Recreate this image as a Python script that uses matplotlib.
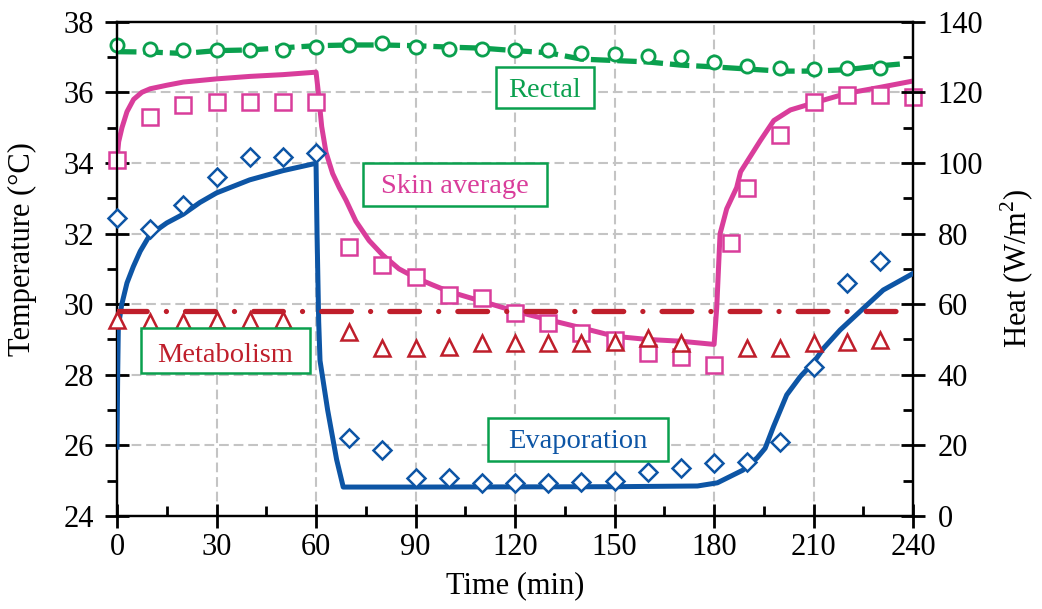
import matplotlib
matplotlib.use("Agg")
import matplotlib.pyplot as plt
from matplotlib.patches import Rectangle
from matplotlib.ticker import MultipleLocator

# ---------------- data ----------------
# Rectal temperature (°C)
rectal_obs_t = [0, 10, 20, 30, 40, 50, 60, 70, 80, 90, 100, 110, 120, 130, 140, 150,
                160, 170, 180, 190, 200, 210, 220, 230]
rectal_obs = [37.33, 37.22, 37.21, 37.2, 37.2, 37.21, 37.29, 37.34, 37.39, 37.29, 37.24,
              37.24, 37.2, 37.2, 37.12, 37.09, 37.03, 36.99, 36.87, 36.75, 36.68, 36.65,
              36.68, 36.7]
rectal_mod_t = [0, 10, 20, 30, 40, 50, 60, 70, 80, 90, 100, 110, 120, 130, 140, 150,
                160, 170, 180, 190, 200, 210, 220, 230, 236]
rectal_mod = [37.15, 37.14, 37.1, 37.18, 37.2, 37.26, 37.32, 37.34, 37.34, 37.32, 37.28,
              37.25, 37.18, 37.12, 36.94, 36.9, 36.86, 36.77, 36.72, 36.66, 36.6, 36.6,
              36.64, 36.75, 36.8]

# Skin average temperature (°C)
skin_obs_t = [0, 10, 20, 30, 40, 50, 60, 70, 80, 90, 100, 110, 120, 130, 140, 150,
              160, 170, 180, 185, 190, 200, 210, 220, 230, 240]
skin_obs = [34.08, 35.31, 35.64, 35.73, 35.73, 35.73, 35.73, 31.63, 31.11, 30.78, 30.26,
            30.17, 29.74, 29.46, 29.17, 28.99, 28.61, 28.51, 28.28, 31.72, 33.29, 34.79,
            35.73, 35.92, 35.92, 35.86]
skin_mod_t = [0, 0.5, 1.5, 3, 5, 7.5, 10, 15, 20, 30, 40, 50, 60, 60.7, 61.7, 63, 65,
              67, 69, 72, 76, 80, 85, 90, 95, 100, 110, 120, 130, 140, 150, 160, 170,
              180, 180.8, 181.8, 183.8, 186.8, 188, 194, 198, 203, 209, 220, 230, 240]
skin_mod = [34.1, 34.6, 35.0, 35.45, 35.8, 36.0, 36.1, 36.2, 36.29, 36.38, 36.45, 36.5,
            36.57, 36.0, 35.03, 34.3, 33.7, 33.3, 32.95, 32.35, 31.8, 31.4, 31.0, 30.75,
            30.55, 30.36, 30.08, 29.8, 29.56, 29.33, 29.09, 29.0, 28.95, 28.86, 29.9,
            31.99, 32.7, 33.3, 33.75, 34.64, 35.2, 35.5, 35.67, 35.97, 36.14, 36.32]

# Evaporation heat (W/m2)
evap_obs_t = [0, 10, 20, 30, 40, 50, 60, 70, 80, 90, 100, 110, 120, 130, 140, 150,
              160, 170, 180, 190, 200, 210, 220, 230]
evap_obs = [84.3, 81.2, 88.1, 96.1, 101.7, 101.7, 102.7, 22.2, 18.7, 10.7, 10.7, 9.3,
            9.3, 9.3, 9.7, 10.0, 12.5, 13.5, 14.9, 15.4, 21.0, 42.3, 65.9, 72.2]
evap_mod_t = [0, 0.2, 0.4, 1.4, 3, 4.9, 7, 9.9, 15, 20, 25, 30, 40, 50, 60, 60.3, 60.8,
              61.2, 63.5, 66.2, 68.2, 90, 150, 175, 181, 188.7, 193, 195.4, 197.9,
              201.9, 206, 210, 213, 218, 225, 231, 240]
evap_mod = [19.5, 40, 53.6, 59.8, 66, 70.6, 75, 79.6, 83, 85.5, 88.8, 91.5, 95.2, 97.8,
            99.9, 80, 55, 44, 30, 16, 8.2, 8.2, 8.3, 8.5, 9.4, 13.0, 16.5, 19.2, 25.3,
            34.3, 39.5, 43.5, 47.5, 52.7, 58.8, 64, 68.7]

# Metabolism heat (W/m2)
metab_obs_t = [0, 10, 20, 30, 40, 50, 70, 80, 90, 100, 110, 120, 130, 140, 150, 160,
               170, 190, 200, 210, 220, 230]
metab_obs = [55.5, 55, 55, 55.5, 55.5, 55.5, 52.2, 47.5, 47.5, 48, 49.1, 49.1, 49.1,
             48.9, 49.3, 50.3, 48.9, 47.5, 47.5, 48.9, 49.4, 49.9]
metab_mod_t = [0, 240]
metab_mod = [58, 58]

x_ticks = [0, 30, 60, 90, 120, 150, 180, 210, 240]
temp_ticks = [24, 26, 28, 30, 32, 34, 36, 38]
heat_ticks = [0, 20, 40, 60, 80, 100, 120, 140]

# ---------------- style ----------------
GREEN = "#0aa04e"
MAGENTA = "#d93d9b"
BLUE = "#0d55a5"
RED = "#bf1e2b"

plt.rcParams["font.family"] = ["Liberation Serif", "DejaVu Serif"]
plt.rcParams["mathtext.fontset"] = "custom"
plt.rcParams["mathtext.rm"] = "Liberation Serif"
plt.rcParams["lines.scale_dashes"] = False

FS = 22
fig = plt.figure(figsize=(10.42, 6.09), dpi=100)
ax = fig.add_axes([0.1123, 0.1527, 0.7640, 0.8117])
ax2 = ax.twinx()

ax.set_xlim(0, 240)
ax.set_ylim(24, 38)
ax2.set_ylim(0, 140)

# grid
for t in x_ticks[1:-1]:
    ax.axvline(t, color="#c4c4c4", lw=1.5, dashes=(7, 3.5), zorder=0)
for v in temp_ticks[1:-1]:
    ax.axhline(v, color="#c4c4c4", lw=1.5, dashes=(7, 3.5), zorder=0)

# temperature series
ax.plot(rectal_mod_t, rectal_mod, color=GREEN, lw=3.8, dashes=(14, 5),
        zorder=3)
ax.plot(rectal_obs_t, rectal_obs, ls="none", marker="o", ms=9.5, mew=2.0,
        mec=GREEN, mfc="white", zorder=4, clip_on=False)
ax.plot(skin_mod_t, skin_mod, color=MAGENTA, lw=3.6, zorder=3,
        solid_joinstyle="round")
ax.plot(skin_obs_t, skin_obs, ls="none", marker="s", ms=11, mew=1.8,
        mec=MAGENTA, mfc="white", zorder=4, clip_on=False)

# heat series
ax2.plot(evap_mod_t, evap_mod, color=BLUE, lw=3.6, zorder=3,
         solid_joinstyle="round")
ax2.plot(evap_obs_t, evap_obs, ls="none", marker="D", ms=9.5, mew=1.8,
         mec=BLUE, mfc="white", zorder=4, clip_on=False)
ax2.plot(metab_mod_t, metab_mod, color=RED, lw=3.8, dashes=(21.4, 13.8, 0.01, 13.8),
         dash_capstyle="round", zorder=3)
ax2.plot(metab_obs_t, metab_obs, ls="none", marker="^", ms=11, mew=1.8,
         mec=RED, mfc="white", zorder=4, clip_on=False)

# ticks
ax.set_xticks(x_ticks)
ax.set_yticks(temp_ticks)
ax2.set_yticks(heat_ticks)
ax.xaxis.set_minor_locator(MultipleLocator(15))
ax.yaxis.set_minor_locator(MultipleLocator(1))
ax2.yaxis.set_minor_locator(MultipleLocator(10))

ax.tick_params(axis="x", which="major", direction="inout", length=17, width=2,
               labelsize=FS, pad=4, top=False)
ax.tick_params(axis="x", which="minor", direction="in", length=7, width=2, top=False)
ax.tick_params(axis="y", which="major", direction="inout", length=17, width=2,
               labelsize=FS, pad=8)
ax.tick_params(axis="y", which="minor", direction="out", length=7, width=2)
ax2.tick_params(axis="y", which="major", direction="inout", length=17, width=2,
                labelsize=FS, pad=9)
ax2.tick_params(axis="y", which="minor", direction="in", length=7, width=2)

for a in (ax, ax2):
    for s in a.spines.values():
        s.set_linewidth(1.6)

ax.set_xlabel("Time (min)", fontsize=FS)
ax.set_ylabel("Temperature (°C)", fontsize=FS)
ax2.set_ylabel(r"Heat (W/m$^\mathrm{2}$)", fontsize=FS)
ax.xaxis.set_label_coords(0.5, -0.112)
ax.yaxis.set_label_coords(-0.100, 0.54)
ax2.yaxis.set_label_coords(1.108, 0.5)

# annotation boxes
boxes = [
    ("Rectal", GREEN, 0.4757, 0.5990, 0.8248, 0.9090, 0.847),
    ("Skin average", MAGENTA, 0.3094, 0.5406, 0.6272, 0.7135, 0.6535),
    ("Metabolism", RED, 0.0298, 0.2425, 0.2899, 0.3797, 0.3122),
    ("Evaporation", BLUE, 0.4664, 0.6918, 0.1113, 0.1977, 0.137),
]
for label, col, x0, x1, y0, y1, yb in boxes:
    ax2.add_patch(Rectangle((x0, y0), x1 - x0, y1 - y0, transform=ax2.transAxes,
                            fc="white", ec=GREEN, lw=1.8, zorder=6))
    ax2.text((x0 + x1) / 2, yb, label, transform=ax2.transAxes, color=col,
             fontsize=20.5, ha="center", va="baseline", zorder=7)

fig.savefig("out.png", dpi=100)
